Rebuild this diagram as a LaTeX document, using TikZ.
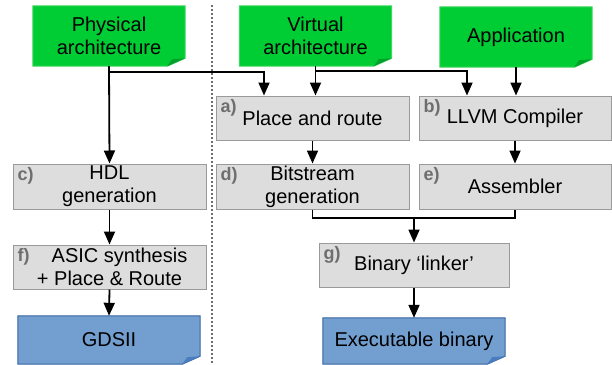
\documentclass[tikz,border=0pt]{standalone}
\usepackage{fontspec}
\setmainfont{Liberation Sans}
\usetikzlibrary{arrows.meta,backgrounds}

\definecolor{notegreen}{HTML}{00CC33}
\definecolor{notegreenline}{HTML}{3ED65E}
\definecolor{foldgreen}{HTML}{00A12A}
\definecolor{noteblue}{HTML}{729FCF}
\definecolor{noteblueline}{HTML}{3465A4}
\definecolor{foldblue}{HTML}{4A7CBE}
\definecolor{stagefill}{HTML}{DDDDDD}
\definecolor{stageline}{HTML}{9A9A9A}
\definecolor{taggray}{HTML}{6E6E6E}

\begin{document}
\begin{tikzpicture}[x=1pt, y=-1pt, font=\fontsize{20}{23}\selectfont,
	note/.style={minimum height=60pt, minimum width=152pt, align=center, inner sep=0pt},
	stage/.style={draw=stageline, fill=stagefill, line width=1pt, minimum height=44pt, minimum width=193pt, align=center, inner sep=0pt},
	tag/.style={anchor=north west, text=taggray, font=\fontsize{18}{18}\selectfont\bfseries, inner sep=0pt},
	wire/.style={line width=1.8pt},
	arr/.style={line width=1.8pt, -{Triangle[length=13pt,width=11pt]}}]
	\useasboundingbox (0,0) rectangle (612,364);
	
	% inputs
	\node[note] (phys) at (109,36) {Physical\\architecture};
	\node[note] (virt) at (315.5,36) {Virtual\\architecture};
	\node[note] (app) at (516,37) {Application};
	
	% stages
	\node[stage] (pr) at (312.5,118) {Place and route};
	\node[stage, minimum width=192pt] (llvm) at (515,118) {LLVM Compiler};
	\node[stage, minimum height=45pt] (hdl) at (109.5,186.5) {HDL\\generation};
	\node[stage, minimum height=45pt] (bit) at (312.5,186.5) {Bitstream\\generation};
	\node[stage, minimum height=45pt, minimum width=192pt] (asm) at (515,186.5) {Assembler};
	\node[stage] (asic) at (109.5,267) {\quad ASIC synthesis\\+ Place \& Route};
	\node[stage, minimum width=190pt] (linker) at (414,265) {Binary `linker'};
	
	% outputs
	\node[note, minimum height=48pt, minimum width=182pt] (gds) at (109,340) {GDSII};
	\node[note, minimum height=46pt, minimum width=182pt] (exe) at (414,341) {Executable binary};
	
	% tags
	\foreach \n/\t in {pr/a), llvm/b), hdl/c), bit/d), asm/e), asic/f), linker/g)}
		\node[tag] at ([xshift=5pt,yshift=-4pt]\n.north west) {\t};
	
	% note backgrounds with folded corner
	\begin{scope}[on background layer]
		\foreach \n/\f/\l/\k in {phys/notegreen/notegreenline/foldgreen, virt/notegreen/notegreenline/foldgreen, app/notegreen/notegreenline/foldgreen, gds/noteblue/noteblueline/foldblue, exe/noteblue/noteblueline/foldblue} {
			\filldraw[fill=\f, draw=\l, line width=1pt] (\n.north west) -- (\n.north east) -- ([yshift=8pt]\n.south east) -- ([xshift=-18pt]\n.south east) -- (\n.south west) -- cycle;
			\fill[\k] ([xshift=-18pt]\n.south east) -- ([xshift=-13pt,yshift=7pt]\n.south east) -- ([yshift=8pt]\n.south east) -- cycle;
		}
	\end{scope}
	
	% divider
	\draw[taggray, line width=1.5pt, dash pattern=on 2pt off 2pt] (212,5) -- (212,364);
	
	% connectors
	\coordinate (physsplit) at ([yshift=-6pt]phys.south);
	\coordinate (virtsplit) at ([yshift=-5pt]virt.south);
	\coordinate (join) at (414,218);
	\draw[arr] (phys.south) -- (hdl.north);
	\draw[arr] (physsplit) -| ([xshift=-48.5pt]pr.north);
	\draw[arr] (virt.south) -- (virt.south |- pr.north);
	\draw[arr] (virtsplit) -| ([xshift=-48pt]llvm.north);
	\draw[arr] (app.south) -- (app.south |- llvm.north);
	\draw[arr] (pr.south) -- (bit.north);
	\draw[arr] (llvm.south) -- (asm.north);
	\draw[wire] (bit.south) |- (join) -| (asm.south);
	\draw[arr] (join) -- (linker.north);
	\draw[arr] (linker.south) -- (exe.north);
	\draw[arr] (hdl.south) -- (asic.north);
	\draw[arr] (asic.south) -- (gds.north);
\end{tikzpicture}
\end{document}
